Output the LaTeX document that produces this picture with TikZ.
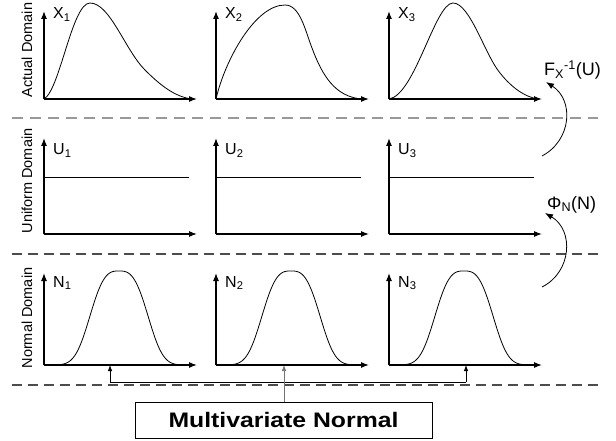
\documentclass[tikz,border=0pt]{standalone}
\usepackage{fontspec}
\setmainfont{Liberation Sans}
\usetikzlibrary{arrows.meta}
\begin{document}
\begin{tikzpicture}[x=1pt,y=-1pt,
  axis/.style={line width=1.1pt,-{Latex[length=8pt,width=6pt]}},
  curve/.style={line width=0.8pt},
  flat/.style={line width=0.8pt},
  lab/.style={font=\fontsize{16}{16}\selectfont, inner sep=0pt, anchor=base west},
  dom/.style={font=\fontsize{14.5}{14.5}\selectfont, inner sep=0pt, rotate=90, anchor=base},
  tr/.style={font=\fontsize{18}{18}\selectfont, inner sep=0pt, anchor=base west},
  curvarrow/.style={line width=0.8pt,-{Latex[length=8pt,width=6pt]}},
  small/.style={line width=0.8pt,-{Latex[length=6pt,width=4.5pt]}},
  lightdash/.style={line width=1.3pt, draw=black!40, dash pattern=on 11pt off 7pt},
  darkdash/.style={line width=1.3pt, draw=black!70, dash pattern=on 10pt off 6pt},
  declare function={bell(\t)=exp(-abs(\t)*\t*\t);}]
\useasboundingbox (0,0) rectangle (616,441);

% dashed separators
\coordinate (d1a) at (12,118); \coordinate (d1b) at (598,118);
\coordinate (d2a) at (12,254); \coordinate (d2b) at (598,254);
\coordinate (d3a) at (12,385); \coordinate (d3b) at (598,385);
\draw[lightdash] (d1a) -- (d1b);
\draw[darkdash] (d2a) -- (d2b);
\draw[darkdash] (d3a) -- (d3b);

% domain labels
\node[dom] (dl1) at (32,50) {Actual Domain};
\node[dom] (dl2) at (32,181) {Uniform Domain};
\node[dom] (dl3) at (32,318) {Normal Domain};

% axes
\foreach \c/\ox in {1/44,2/216,3/389}{
  \foreach \r/\oy/\ty/\by/\L in {1/99/11/19/X, 2/234/138/155/U, 3/365/273/287/N}{
    \coordinate (o\r\c) at (\ox,\oy);
    \coordinate (t\r\c) at (\ox,\ty);
    \coordinate (e\r\c) at (\ox+153,\oy);
    \draw[axis] (o\r\c) -- (t\r\c);
    \draw[axis] (o\r\c) -- (e\r\c);
    \node[lab] (l\r\c) at (\ox+9,\by) {\L\textsubscript{\c}};
  }
  % uniform density
  \coordinate (ua\c) at (\ox,177);
  \coordinate (ub\c) at (\ox+145,177);
  \draw[flat] (ua\c) -- (ub\c);
  % normal density
  \draw[curve] plot[domain=0:146,samples=120] ({\ox+\x},{365-94*bell((\x-75)/33.5)});
}

% actual-domain densities
\draw[curve] (o11) .. controls (60,90) and (72,3) .. (90,3)
  .. controls (110,3) and (125,50) .. (145,70)
  .. controls (160,85) and (175,97) .. (192,99);
\draw[curve] (o12) .. controls (225,60) and (255,5) .. (285,5)
  .. controls (300,5) and (305,30) .. (312,48)
  .. controls (322,75) and (335,97) .. (362,99);
\draw[curve] (o13) .. controls (415,95) and (435,3) .. (453,3)
  .. controls (470,3) and (485,55) .. (500,73)
  .. controls (512,88) and (525,97) .. (538,99);

% transformation arrows
\coordinate (fa) at (542,156); \coordinate (fb) at (546,82);
\coordinate (pa) at (542,287); \coordinate (pb) at (545,213);
\draw[curvarrow] (fa) .. controls (572,140) and (574,100) .. (fb);
\draw[curvarrow] (pa) .. controls (572,272) and (574,230) .. (pb);
\node[tr] (ft) at (544,76) {F\textsubscript{X}\textsuperscript{-1}(U)};
\node[tr] (pt) at (547,209) {Φ\textsubscript{N}(N)};

% multivariate normal box and links
\node[draw, line width=0.7pt, minimum width=297pt, minimum height=36pt, inner sep=0pt]
  (mvn) at (283.5,420) {\scalebox{1.18}[1]{\fontsize{21}{21}\selectfont\bfseries Multivariate Normal}};
\coordinate (m1) at (110,382); \coordinate (m3) at (466,382);
\coordinate (a1) at (110,365); \coordinate (a3) at (466,365);
\coordinate (a2) at (284,365);
\draw[line width=0.8pt] (m1) -- (m3);
\draw[small] (m1) -- (a1);
\draw[small] (m3) -- (a3);
\draw[small, draw=black!55, line width=0.6pt] (mvn.north -| a2) -- (a2);
\end{tikzpicture}
\end{document}
